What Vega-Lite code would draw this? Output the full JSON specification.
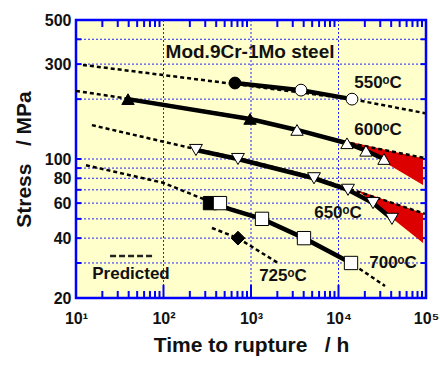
{
  "$schema": "https://vega.github.io/schema/vega-lite/v6.json",
  "width": 350,
  "height": 278,
  "autosize": {"type": "none"},
  "padding": {"left": 76, "top": 20, "right": 14, "bottom": 67},
  "background": "white",
  "config": {
    "view": {"fill": "#ffffcc", "stroke": "#0000ff", "strokeWidth": 2.5},
    "font": "Liberation Sans",
    "axis": {"zindex": 1}
  },
  "datasets": {
    "vgrid": [{"t": 100}, {"t": 1000}, {"t": 10000}],
    "hgrid": [{"s": 30}, {"s": 40}, {"s": 50}, {"s": 60}, {"s": 70}, {"s": 80}, {"s": 90}, {"s": 100}, {"s": 200}, {"s": 300}, {"s": 400}],
    "xminor": [{"t": 20}, {"t": 30}, {"t": 40}, {"t": 50}, {"t": 60}, {"t": 70}, {"t": 80}, {"t": 90}, {"t": 200}, {"t": 300}, {"t": 400}, {"t": 500}, {"t": 600}, {"t": 700}, {"t": 800}, {"t": 900}, {"t": 2000}, {"t": 3000}, {"t": 4000}, {"t": 5000}, {"t": 6000}, {"t": 7000}, {"t": 8000}, {"t": 9000}, {"t": 20000}, {"t": 30000}, {"t": 40000}, {"t": 50000}, {"t": 60000}, {"t": 70000}, {"t": 80000}, {"t": 90000}],
    "xmajor": [{"t": 100}, {"t": 1000}, {"t": 10000}],
    "bands": [
      {"temp": "600", "t": 13500, "hi": 122, "lo": 122},
      {"temp": "600", "t": 92500, "hi": 101, "lo": 74},
      {"temp": "650", "t": 16250, "hi": 69.8, "lo": 69.8},
      {"temp": "650", "t": 92500, "hi": 53.3, "lo": 37.8}
    ],
    "pred": [
      {"temp": "550", "t": 12, "s": 297}, {"temp": "550", "t": 656, "s": 238}, {"temp": "550", "t": 14270, "s": 200}, {"temp": "550", "t": 97500, "s": 170},
      {"temp": "600", "t": 10, "s": 220}, {"temp": "600", "t": 39.3, "s": 201}, {"temp": "600", "t": 975, "s": 160}, {"temp": "600", "t": 3357, "s": 140}, {"temp": "600", "t": 12500, "s": 121}, {"temp": "600", "t": 30000, "s": 112}, {"temp": "600", "t": 97500, "s": 101},
      {"temp": "650", "t": 15.2, "s": 148}, {"temp": "650", "t": 235, "s": 112}, {"temp": "650", "t": 710, "s": 101}, {"temp": "650", "t": 5250, "s": 81}, {"temp": "650", "t": 12840, "s": 71}, {"temp": "650", "t": 30000, "s": 63}, {"temp": "650", "t": 97000, "s": 53},
      {"temp": "700", "t": 13, "s": 93}, {"temp": "700", "t": 98.6, "s": 76}, {"temp": "700", "t": 340, "s": 61}, {"temp": "700", "t": 1336, "s": 50}, {"temp": "700", "t": 4033, "s": 40}, {"temp": "700", "t": 13900, "s": 30}, {"temp": "700", "t": 34000, "s": 23},
      {"temp": "725", "t": 358, "s": 45}, {"temp": "725", "t": 710, "s": 40}, {"temp": "725", "t": 2035, "s": 30}
    ],
    "solid": [
      {"temp": "550", "t": 656, "s": 241}, {"temp": "550", "t": 3727, "s": 222}, {"temp": "550", "t": 14270, "s": 200},
      {"temp": "600", "t": 39.3, "s": 200}, {"temp": "600", "t": 975, "s": 159}, {"temp": "600", "t": 3357, "s": 140}, {"temp": "600", "t": 12500, "s": 120}, {"temp": "600", "t": 20600, "s": 110}, {"temp": "600", "t": 33100, "s": 100},
      {"temp": "650", "t": 235, "s": 111}, {"temp": "650", "t": 710, "s": 100}, {"temp": "650", "t": 5250, "s": 80}, {"temp": "650", "t": 12840, "s": 70}, {"temp": "650", "t": 24800, "s": 60}, {"temp": "650", "t": 40800, "s": 50},
      {"temp": "700", "t": 340, "s": 60}, {"temp": "700", "t": 1336, "s": 50}, {"temp": "700", "t": 4033, "s": 40}, {"temp": "700", "t": 13900, "s": 30}
    ],
    "pts": [
      {"temp": "550", "kind": "a", "t": 656, "s": 241}, {"temp": "550", "kind": "b", "t": 3727, "s": 222}, {"temp": "550", "kind": "b", "t": 14270, "s": 200},
      {"temp": "600", "kind": "a", "t": 39.3, "s": 200}, {"temp": "600", "kind": "a", "t": 975, "s": 159}, {"temp": "600", "kind": "b", "t": 3357, "s": 140}, {"temp": "600", "kind": "b", "t": 12500, "s": 120}, {"temp": "600", "kind": "b", "t": 20600, "s": 110}, {"temp": "600", "kind": "b", "t": 33100, "s": 100},
      {"temp": "650", "kind": "b", "t": 235, "s": 111}, {"temp": "650", "kind": "b", "t": 710, "s": 100}, {"temp": "650", "kind": "b", "t": 5250, "s": 80}, {"temp": "650", "kind": "b", "t": 12840, "s": 70}, {"temp": "650", "kind": "b", "t": 24800, "s": 60}, {"temp": "650", "kind": "b", "t": 40800, "s": 50},
      {"temp": "700", "kind": "a", "t": 340, "s": 60}, {"temp": "700", "kind": "b", "t": 442, "s": 60}, {"temp": "700", "kind": "b", "t": 1336, "s": 50}, {"temp": "700", "kind": "b", "t": 4033, "s": 40}, {"temp": "700", "kind": "b", "t": 13900, "s": 30},
      {"temp": "725", "kind": "a", "t": 710, "s": 40}
    ],
    "legend": [{"t": 24.5, "s": 32.5}, {"t": 80, "s": 32.5}],
    "templabels": [
      {"t": 28300, "s": 241, "label": "550ᵒC"},
      {"t": 28300, "s": 140, "label": "600ᵒC"},
      {"t": 9870, "s": 53.5, "label": "650ᵒC"},
      {"t": 42000, "s": 30, "label": "700ᵒC"},
      {"t": 2320, "s": 25.8, "label": "725ᵒC"}
    ],
    "title": [{"t": 975, "s": 345, "label": "Mod.9Cr-1Mo steel"}],
    "note": [{"t": 42.5, "s": 26.4, "label": "Predicted"}]
  },
  "layer": [
    {
      "data": {"name": "vgrid"},
      "mark": {"type": "rule", "color": "#2222ff", "strokeWidth": 1, "strokeDash": [2, 2]},
      "encoding": {
        "x": {
          "field": "t", "type": "quantitative",
          "scale": {"type": "log", "domain": [10, 100000], "nice": false},
          "axis": {
            "orient": "bottom",
            "domain": false,
            "ticks": false,
            "title": "Time to rupture\u00a0\u00a0\u00a0/ h",
            "titleFont": "Liberation Sans", "titleFontSize": 21, "titleFontWeight": "bold", "titleColor": "#111", "titlePadding": 8,
            "values": [10, 100, 1000, 10000, 100000],
            "labelExpr": "datum.value==10?'10¹':datum.value==100?'10²':datum.value==1000?'10³':datum.value==10000?'10⁴':'10⁵'",
            "labelFont": "Liberation Sans", "labelFontSize": 16, "labelFontWeight": "bold", "labelColor": "#111",
            "labelFlush": false, "labelOverlap": false, "labelPadding": 12,
            "grid": false
          }
        }
      }
    },
    {
      "data": {"name": "hgrid"},
      "mark": {"type": "rule", "color": "#2222ff", "strokeWidth": 1, "strokeDash": [2, 2]},
      "encoding": {
        "y": {
          "field": "s", "type": "quantitative",
          "scale": {"type": "log", "domain": [20, 500], "nice": false},
          "axis": {
            "orient": "left",
            "domain": false,
            "ticks": false,
            "title": "Stress\u00a0\u00a0\u00a0/ MPa",
            "titleFont": "Liberation Sans", "titleFontSize": 21, "titleFontWeight": "bold", "titleColor": "#111", "titlePadding": 10,
            "values": [20, 40, 60, 80, 100, 300, 500],
            "labelFont": "Liberation Sans", "labelFontSize": 16, "labelFontWeight": "bold", "labelColor": "#111",
            "labelFlush": false, "labelOverlap": false, "labelPadding": 5,
            "grid": false
          }
        }
      }
    },
    {
      "data": {"name": "xminor"},
      "mark": {"type": "rule", "color": "#0000ff", "strokeWidth": 2},
      "encoding": {
        "x": {"field": "t", "type": "quantitative"},
        "y": {"datum": 20, "type": "quantitative"},
        "y2": {"datum": 21.7}
      }
    },
    {
      "data": {"name": "xmajor"},
      "mark": {"type": "rule", "color": "#0000ff", "strokeWidth": 2},
      "encoding": {
        "x": {"field": "t", "type": "quantitative"},
        "y": {"datum": 20, "type": "quantitative"},
        "y2": {"datum": 23.3}
      }
    },
    {
      "data": {"name": "xminor"},
      "mark": {"type": "rule", "color": "#0000ff", "strokeWidth": 2},
      "encoding": {
        "x": {"field": "t", "type": "quantitative"},
        "y": {"datum": 500, "type": "quantitative"},
        "y2": {"datum": 461}
      }
    },
    {
      "data": {"name": "hgrid"},
      "mark": {"type": "rule", "color": "#0000ff", "strokeWidth": 2},
      "encoding": {
        "y": {"field": "s", "type": "quantitative"},
        "x": {"datum": 10, "type": "quantitative"},
        "x2": {"datum": 11.5}
      }
    },
    {
      "data": {"name": "hgrid"},
      "mark": {"type": "rule", "color": "#0000ff", "strokeWidth": 2},
      "encoding": {
        "y": {"field": "s", "type": "quantitative"},
        "x": {"datum": 100000, "type": "quantitative"},
        "x2": {"datum": 87000}
      }
    },
    {
      "data": {"name": "bands"},
      "mark": {"type": "area", "color": "#dd0000", "opacity": 1},
      "encoding": {
        "x": {"field": "t", "type": "quantitative"},
        "y": {"field": "hi", "type": "quantitative"},
        "y2": {"field": "lo"},
        "detail": {"field": "temp", "type": "nominal"}
      }
    },
    {
      "data": {"name": "pred"},
      "mark": {"type": "line", "color": "#000", "strokeWidth": 2.5, "strokeDash": [4, 3]},
      "encoding": {
        "x": {"field": "t", "type": "quantitative"},
        "y": {"field": "s", "type": "quantitative"},
        "detail": {"field": "temp", "type": "nominal"}
      }
    },
    {
      "data": {"name": "solid"},
      "mark": {"type": "line", "color": "#000", "strokeWidth": 4.5},
      "encoding": {
        "x": {"field": "t", "type": "quantitative"},
        "y": {"field": "s", "type": "quantitative"},
        "detail": {"field": "temp", "type": "nominal"}
      }
    },
    {
      "data": {"name": "legend"},
      "mark": {"type": "line", "color": "#222", "strokeWidth": 2.5, "strokeDash": [6, 3]},
      "encoding": {
        "x": {"field": "t", "type": "quantitative"},
        "y": {"field": "s", "type": "quantitative"}
      }
    },
    {
      "data": {"name": "pts"},
      "mark": {"type": "point", "filled": true, "stroke": "#000", "strokeWidth": 1, "opacity": 1},
      "encoding": {
        "x": {"field": "t", "type": "quantitative"},
        "y": {"field": "s", "type": "quantitative"},
        "shape": {"field": "temp", "type": "nominal", "legend": null,
          "scale": {"domain": ["550", "600", "650", "700", "725"], "range": ["circle", "triangle-up", "triangle-down", "square", "diamond"]}},
        "size": {"field": "temp", "type": "nominal", "legend": null,
          "scale": {"domain": ["550", "600", "650", "700", "725"], "range": [140, 190, 190, 156, 260]}},
        "fill": {"field": "kind", "type": "nominal", "legend": null,
          "scale": {"domain": ["a", "b"], "range": ["#000000", "#ffffff"]}}
      }
    },
    {
      "data": {"name": "templabels"},
      "mark": {"type": "text", "font": "Liberation Sans", "fontSize": 17, "fontWeight": "bold", "color": "#111", "align": "center", "baseline": "middle"},
      "encoding": {
        "x": {"field": "t", "type": "quantitative"},
        "y": {"field": "s", "type": "quantitative"},
        "text": {"field": "label"}
      }
    },
    {
      "data": {"name": "title"},
      "mark": {"type": "text", "font": "Liberation Sans", "fontSize": 19, "fontWeight": "bold", "color": "#111", "align": "center", "baseline": "middle"},
      "encoding": {
        "x": {"field": "t", "type": "quantitative"},
        "y": {"field": "s", "type": "quantitative"},
        "text": {"field": "label"}
      }
    },
    {
      "data": {"name": "note"},
      "mark": {"type": "text", "font": "Liberation Sans", "fontSize": 17, "fontWeight": "bold", "color": "#111", "align": "center", "baseline": "middle"},
      "encoding": {
        "x": {"field": "t", "type": "quantitative"},
        "y": {"field": "s", "type": "quantitative"},
        "text": {"field": "label"}
      }
    }
  ]
}
